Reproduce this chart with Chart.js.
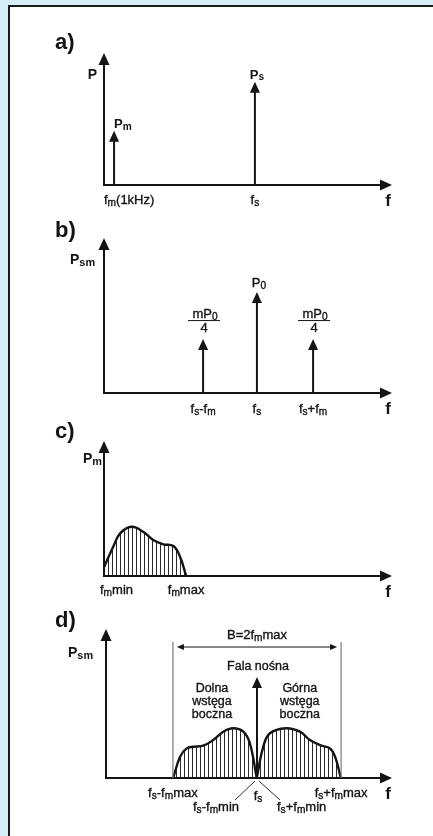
<!DOCTYPE html>
<html><head><meta charset="utf-8">
<script src="https://cdn.jsdelivr.net/npm/chart.js@4/dist/chart.umd.min.js"></script>
<style>
html,body{margin:0;padding:0;background:#d6eef6;width:433px;height:836px;overflow:hidden}
#panel{position:absolute;left:8px;top:5px;width:440px;height:840px;background:#fff;border-left:2px solid #1a1a1a;border-top:2px solid #1a1a1a;box-sizing:border-box}
canvas{position:absolute;left:0;top:0}
</style></head><body>
<div id="panel"></div>
<canvas id="ca" width="433" height="836"></canvas>
<canvas id="cb" width="433" height="836"></canvas>
<canvas id="cc" width="433" height="836"></canvas>
<canvas id="cd" width="433" height="836"></canvas>
<script>
// ---------- data (abstract units: frequency 0..100, power 0..100) ----------
// a) spectrum of modulating signal and carrier
const aFreq = [3.5, 52.4];
const aPower = [41.1, 78.3];
const aPeakLabels = ['P_{m}', 'P_{s}'];
const aTickLabels = ['f_{m}(1kHz)', 'f_{s}'];

// b) AM spectrum, single tone
const bFreq = [34.4, 53.1, 72.6];
const bPower = [34.8, 65.2, 34.8];
const bPeakLabels = ['mP_{0}|4', 'P_{0}', 'mP_{0}|4'];
const bTickLabels = ['f_{s}-f_{m}', 'f_{s}', 'f_{s}+f_{m}'];

// c) modulating band
const cFreq = [0.1, 3.2, 5.6, 9.6, 13.6, 17.1, 20.6, 24.1, 26.4, 28.5];
const cPower = [6.9, 21.7, 31.6, 36.5, 32.8, 26.7, 23.5, 22.2, 14.3, 0.2];
const cTickFreq = [0, 28.5];
const cTickLabels = ['f_{m}min', 'f_{m}max'];

// d) AM spectrum with sidebands
const dLowerFreq = [23.5, 25.9, 28.2, 30.5, 34.0, 37.5, 41.0, 44.5, 48.0, 50.3, 52.7];
const dLowerPower = [0, 14.3, 19.9, 21.0, 21.7, 25.5, 31.1, 33.4, 31.1, 23.3, 0];
const dUpperFreq = [52.7, 55.0, 57.3, 62.9, 67.8, 71.3, 75.4, 78.3, 80.1, 82.1];
const dUpperPower = [0, 21.0, 30.0, 33.4, 31.1, 25.5, 21.7, 19.9, 14.3, 0];
const dCarrierFreq = [52.8];
const dCarrierPower = [67.8];
const dBandEdges = [23.4, 82.2];
const dBandTop = 91.3;
const dBandArrowLevel = 87.9;
const dTickFreq = [23.4, 52.8, 82.2];
const dTickLabels = ['f_{s}-f_{m}max', 'f_{s}', 'f_{s}+f_{m}max'];
const dInnerLabels = ['f_{s}-f_{m}min', 'f_{s}+f_{m}min'];
const dTexts = ['B=2f_{m}max', 'Fala nośna', ['Dolna', 'wstęga', 'boczna'], ['Górna', 'wstęga', 'boczna']];

// ---------- helpers ----------
const FAM = '"Liberation Sans", Arial, Helvetica, sans-serif';
const INK = '#141414';
function parse(s){
  const out=[]; const re=/_\{([^}]*)\}/g; let last=0, m;
  while((m=re.exec(s))){ if(m.index>last) out.push([s.slice(last,m.index),false]); out.push([m[1],true]); last=re.lastIndex; }
  if(last<s.length) out.push([s.slice(last),false]);
  return out;
}
function rich(ctx, s, x, y, size, weight, align){
  const segs=parse(s); const sub=size*0.78;
  let w=0;
  segs.forEach(([t,isSub])=>{ ctx.font=`${weight} ${isSub?sub:size}px ${FAM}`; w+=ctx.measureText(t).width; });
  let cx = align==='center'? x-w/2 : align==='right'? x-w : x;
  ctx.save();
  ctx.fillStyle=INK; ctx.strokeStyle=INK; ctx.lineWidth=0.35; ctx.lineJoin='round';
  ctx.textBaseline='alphabetic'; ctx.textAlign='left';
  segs.forEach(([t,isSub])=>{
    ctx.font=`${weight} ${isSub?sub:size}px ${FAM}`;
    const yy=y+(isSub?size*0.14:0);
    ctx.fillText(t,cx,yy);
    if(weight==='normal') ctx.strokeText(t,cx,yy);
    cx+=ctx.measureText(t).width;
  });
  ctx.restore();
  return w;
}
function head(ctx,x,y,dir,len=11,hw=5){
  ctx.beginPath();
  if(dir==='up'){ ctx.moveTo(x,y); ctx.lineTo(x-hw,y+len); ctx.lineTo(x+hw,y+len); }
  else if(dir==='right'){ ctx.moveTo(x,y); ctx.lineTo(x-len,y-hw); ctx.lineTo(x-len,y+hw); }
  else if(dir==='left'){ ctx.moveTo(x,y); ctx.lineTo(x+len,y-hw); ctx.lineTo(x+len,y+hw); }
  ctx.closePath(); ctx.fill();
}
function drawAxes(chart){
  const {ctx}=chart; const xs=chart.scales.x, ys=chart.scales.y;
  const x0=xs.getPixelForValue(0), y0=ys.getPixelForValue(0);
  const top=ys.getPixelForValue(100), right=xs.getPixelForValue(100);
  ctx.save(); ctx.strokeStyle=INK; ctx.fillStyle=INK; ctx.lineWidth=2;
  ctx.beginPath(); ctx.moveTo(x0,top+8); ctx.lineTo(x0,y0); ctx.lineTo(right-8,y0); ctx.stroke();
  head(ctx,x0,top,'up',12,5.5); head(ctx,right,y0,'right',12,5.5);
  rich(ctx,'f',right-4,y0+21,17,'bold','center');
  ctx.restore();
}
function drawStems(chart){
  const {ctx}=chart; const base=chart.scales.y.getPixelForValue(0);
  ctx.save(); ctx.strokeStyle=INK; ctx.fillStyle=INK; ctx.lineWidth=2;
  chart.data.datasets.forEach((ds,i)=>{
    if(!ds.stem) return;
    chart.getDatasetMeta(i).data.forEach(p=>{
      ctx.beginPath(); ctx.moveTo(p.x,base); ctx.lineTo(p.x,p.y+8); ctx.stroke();
      head(ctx,p.x,p.y,'up',11,5);
    });
  });
  ctx.restore();
}
function hatchFor(id){
  const pc=document.createElement('canvas'); pc.width=4; pc.height=4;
  const g=pc.getContext('2d'); g.fillStyle='#2b2b2b'; g.fillRect(0,0,1,4);
  return document.getElementById(id).getContext('2d').createPattern(pc,'repeat');
}
function stemSet(xs,ys){ return {data:xs.map((x,i)=>({x,y:ys[i]})), showLine:false, pointRadius:0, stem:true}; }
function curveSet(xs,ys,pattern){
  return {type:'line', data:xs.map((x,i)=>({x,y:ys[i]})), borderColor:INK, borderWidth:2.4, pointRadius:0,
    tension:0.4, fill:'origin', backgroundColor:pattern, clip:false};
}
function make(id,pad,datasets,draw){
  return new Chart(document.getElementById(id),{
    type:'scatter', data:{datasets},
    options:{responsive:false, animation:false, events:[], layout:{padding:pad},
      plugins:{legend:{display:false}, tooltip:{enabled:false}, title:{display:false}},
      scales:{x:{type:'linear',min:0,max:100,display:false}, y:{type:'linear',min:0,max:100,display:false}}},
    plugins:[{id:'p'+id, afterDatasetsDraw:(c)=>{ drawStems(c); drawAxes(c); draw(c); }}]
  });
}
const W=433, H=836;

// ---------- a) ----------
make('ca',{left:104,right:W-392,top:53,bottom:H-185},[stemSet(aFreq,aPower)],(c)=>{
  const {ctx}=c; const xs=c.scales.x, ys=c.scales.y; const base=ys.getPixelForValue(0);
  rich(ctx,'a)',55,49,22,'bold','left');
  rich(ctx,'P',97,79,14,'bold','right');
  rich(ctx,aPeakLabels[0],xs.getPixelForValue(aFreq[0]),ys.getPixelForValue(aPower[0])-3,13,'bold','left');
  rich(ctx,aPeakLabels[1],xs.getPixelForValue(aFreq[1])+2,ys.getPixelForValue(aPower[1])-3,13,'bold','center');
  rich(ctx,aTickLabels[0],xs.getPixelForValue(0),base+19,13,'normal','left');
  rich(ctx,aTickLabels[1],xs.getPixelForValue(aFreq[1]),base+19,13,'normal','center');
});

// ---------- b) ----------
make('cb',{left:104,right:W-392,top:238,bottom:H-393},[stemSet(bFreq,bPower)],(c)=>{
  const {ctx}=c; const xs=c.scales.x, ys=c.scales.y; const base=ys.getPixelForValue(0);
  rich(ctx,'b)',55,237,22,'bold','left');
  rich(ctx,'P_{sm}',70,264,14,'bold','left');
  bFreq.forEach((f,i)=>{
    const x=xs.getPixelForValue(f), tip=ys.getPixelForValue(bPower[i]);
    const lab=bPeakLabels[i];
    if(lab.includes('|')){
      const [num,den]=lab.split('|');
      rich(ctx,num,x+2,tip-21,13,'normal','center');
      ctx.save(); ctx.strokeStyle=INK; ctx.lineWidth=1; ctx.beginPath(); ctx.moveTo(x-15,tip-18.5); ctx.lineTo(x+17,tip-18.5); ctx.stroke(); ctx.restore();
      rich(ctx,den,x+1,tip-7,13,'normal','center');
    } else {
      rich(ctx,lab,x+2,tip-5,13,'normal','center');
    }
    rich(ctx,bTickLabels[i],x,base+20,13,'normal','center');
  });
});

// ---------- c) ----------
make('cc',{left:104,right:W-392,top:441,bottom:H-576},[curveSet(cFreq,cPower,hatchFor('cc'))],(c)=>{
  const {ctx}=c; const xs=c.scales.x, ys=c.scales.y; const base=ys.getPixelForValue(0);
  rich(ctx,'c)',55,438,22,'bold','left');
  rich(ctx,'P_{m}',83,463,14,'bold','left');
  rich(ctx,cTickLabels[0],xs.getPixelForValue(cTickFreq[0])-4,base+18,13,'normal','left');
  rich(ctx,cTickLabels[1],xs.getPixelForValue(cTickFreq[1]),base+18,13,'normal','center');
});

// ---------- d) ----------
const dHatch=hatchFor('cd');
make('cd',{left:106,right:W-392,top:629,bottom:H-778},
  [curveSet(dLowerFreq,dLowerPower,dHatch), curveSet(dUpperFreq,dUpperPower,dHatch), stemSet(dCarrierFreq,dCarrierPower)],
  (c)=>{
  const {ctx}=c; const xs=c.scales.x, ys=c.scales.y; const base=ys.getPixelForValue(0);
  rich(ctx,'d)',55,627,22,'bold','left');
  rich(ctx,'P_{sm}',68,657,14,'bold','left');
  const l=xs.getPixelForValue(dBandEdges[0]), r=xs.getPixelForValue(dBandEdges[1]);
  const top=ys.getPixelForValue(dBandTop), ay=ys.getPixelForValue(dBandArrowLevel);
  ctx.save();
  ctx.strokeStyle='#7a7a7a'; ctx.lineWidth=1.2;
  [l,r].forEach(x=>{ ctx.beginPath(); ctx.moveTo(x,top); ctx.lineTo(x,base); ctx.stroke(); });
  ctx.strokeStyle=INK; ctx.fillStyle=INK; ctx.lineWidth=1;
  ctx.beginPath(); ctx.moveTo(l+8,ay); ctx.lineTo(r-8,ay); ctx.stroke();
  head(ctx,l+4,ay,'left',7,3); head(ctx,r-4,ay,'right',7,3);
  ctx.restore();
  const fs=xs.getPixelForValue(dCarrierFreq[0]);
  rich(ctx,dTexts[0],(l+r)/2,ay-8,13,'normal','center');
  rich(ctx,dTexts[1],fs+1,ys.getPixelForValue(dCarrierPower[0])-7,12.5,'normal','center');
  const lc=xs.getPixelForValue((dLowerFreq[0]+dLowerFreq[dLowerFreq.length-1])/2);
  const uc=xs.getPixelForValue((dUpperFreq[0]+dUpperFreq[dUpperFreq.length-1])/2);
  dTexts[2].forEach((t,i)=>rich(ctx,t,lc-3,692+i*13,12.5,'normal','center'));
  dTexts[3].forEach((t,i)=>rich(ctx,t,uc+1,692+i*13,12.5,'normal','center'));
  rich(ctx,dTickLabels[0],xs.getPixelForValue(dTickFreq[0]),base+19,13,'normal','center');
  rich(ctx,dTickLabels[1],xs.getPixelForValue(dTickFreq[1])+1,base+22,13,'normal','center');
  rich(ctx,dTickLabels[2],xs.getPixelForValue(dTickFreq[2]),base+19,13,'normal','center');
  ctx.save(); ctx.strokeStyle=INK; ctx.lineWidth=0.9;
  ctx.beginPath(); ctx.moveTo(fs-2,base+3); ctx.lineTo(fs-22,base+22); ctx.stroke();
  ctx.beginPath(); ctx.moveTo(fs+2,base+3); ctx.lineTo(fs+23,base+22); ctx.stroke();
  ctx.restore();
  rich(ctx,dInnerLabels[0],fs-18,base+33,13,'normal','right');
  rich(ctx,dInnerLabels[1],fs+20,base+33,13,'normal','left');
});
</script>
</body></html>
